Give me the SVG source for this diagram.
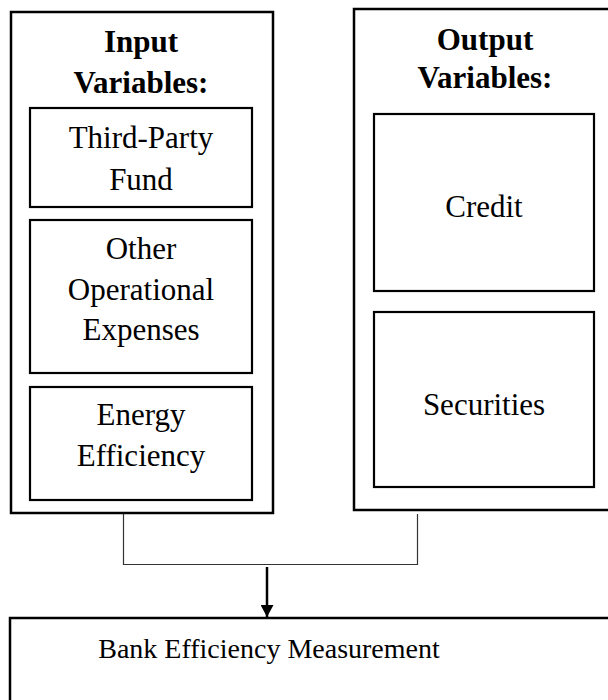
<svg xmlns="http://www.w3.org/2000/svg" width="608" height="700" viewBox="0 0 608 700">
<defs>
<style>
.outer{fill:#fff;stroke:#000;stroke-width:2.5}
.inner{fill:#fff;stroke:#000;stroke-width:2.2}
.t{font-family:"Liberation Serif","Times New Roman",serif;font-size:31px;fill:#000;text-anchor:middle}
.b{font-weight:bold}
.conn{fill:none;stroke:#333;stroke-width:1.2}
.arrow{fill:none;stroke:#000;stroke-width:2.5}
</style>
<marker id="ah" viewBox="0 0 13 14" refX="13" refY="7" markerWidth="14" markerHeight="13" markerUnits="userSpaceOnUse" orient="auto">
<path d="M0,0 L13,7 L0,14 Z" fill="#000"/>
</marker>
</defs>
<g id="input-vars">
<rect class="outer" x="11" y="12" width="262" height="501"/>
<text class="t b" x="141" y="52">Input</text>
<text class="t b" x="141" y="93">Variables:</text>
</g>
<g id="third-party-fund">
<rect class="inner" x="30" y="108" width="222" height="99"/>
<text class="t" x="141" y="148">Third-Party</text>
<text class="t" x="141" y="190">Fund</text>
</g>
<g id="other-opex">
<rect class="inner" x="30" y="220" width="222" height="153"/>
<text class="t" x="141" y="259">Other</text>
<text class="t" x="141" y="300">Operational</text>
<text class="t" x="141" y="340">Expenses</text>
</g>
<g id="energy-efficiency">
<rect class="inner" x="30" y="387" width="222" height="113"/>
<text class="t" x="141" y="425">Energy</text>
<text class="t" x="141" y="466">Efficiency</text>
</g>
<g id="output-vars">
<rect class="outer" x="354" y="9" width="270" height="501"/>
<text class="t b" x="485" y="50">Output</text>
<text class="t b" x="485" y="88">Variables:</text>
</g>
<g id="credit">
<rect class="inner" x="374" y="114" width="220" height="177"/>
<text class="t" x="484" y="217">Credit</text>
</g>
<g id="securities">
<rect class="inner" x="374" y="312" width="220" height="175"/>
<text class="t" x="484" y="415">Securities</text>
</g>
<g id="bank-efficiency">
<rect class="outer" x="10" y="618" width="620" height="110"/>
<text class="t" x="269" y="658" style="font-size:28px">Bank Efficiency Measurement</text>
</g>
<g id="connectors">
<polyline class="conn" points="123.5,514 123.5,564.5 417.5,564.5 417.5,514"/>
<line class="arrow" x1="267" y1="567" x2="267" y2="617" marker-end="url(#ah)"/>
</g>
</svg>
